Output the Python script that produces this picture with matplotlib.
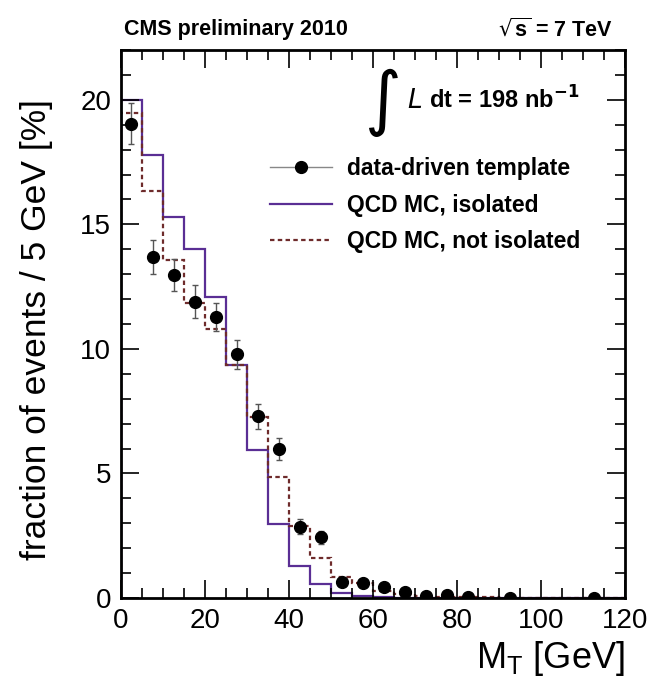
import matplotlib
matplotlib.use('Agg')

import numpy as np
import matplotlib.pyplot as plt
from matplotlib.lines import Line2D
from matplotlib.ticker import MultipleLocator

plt.rcParams['font.family'] = ['Liberation Sans', 'DejaVu Sans']

# Bin edges (5 GeV bins)
edges = np.arange(0, 125, 5)

# QCD MC, isolated
iso = [20.0, 17.8, 15.3, 14.0, 12.1, 9.34, 5.93, 2.97, 1.3, 0.56, 0.2, 0.08,
       0.03, 0.01, 0, 0, 0, 0, 0, 0, 0, 0, 0, 0]
# QCD MC, not isolated
noniso = [19.47, 16.35, 13.55, 11.84, 10.8, 9.34, 7.27, 4.86, 2.9, 1.59, 0.83, 0.61,
          0.3, 0.15, 0.08, 0.05, 0.03, 0.02, 0.01, 0, 0, 0, 0, 0]

# data-driven template
data_x = [2.5, 7.5, 12.5, 17.5, 22.5, 27.5, 32.5, 37.5, 42.5, 47.5,
          52.5, 57.5, 62.5, 67.5, 72.5, 77.5, 82.5, 92.5, 112.5]
data_y = [19.05, 13.7, 12.97, 11.9, 11.28, 9.78, 7.29, 5.98, 2.87, 2.43,
          0.65, 0.61, 0.45, 0.25, 0.08, 0.12, 0.02, 0.0, 0.0]
data_err = [0.83, 0.69, 0.65, 0.65, 0.55, 0.58, 0.5, 0.45, 0.3, 0.25,
            0.12, 0.1, 0.08, 0.06, 0.04, 0.04, 0.02, 0.02, 0.02]

purple = '#5a2e94'
brown = '#6e2b2b'

fig = plt.figure(figsize=(6.54, 6.76), dpi=100)
ax = fig.add_axes([0.185, 0.1154, 0.771, 0.8106])

ax.stairs(iso, edges, color=purple, linewidth=1.6, baseline=0)
ax.stairs(noniso, edges, color=brown, linewidth=1.6, linestyle=(0, (2, 1.5)), baseline=0)
ax.errorbar(data_x, data_y, yerr=data_err, fmt='o', color='black', markersize=8.5,
            ecolor='#555555', elinewidth=1.0, capsize=2.5, capthick=1.0, zorder=5)

ax.set_xlim(0, 120)
ax.set_ylim(0, 22)
ax.xaxis.set_major_locator(MultipleLocator(20))
ax.xaxis.set_minor_locator(MultipleLocator(5))
ax.yaxis.set_major_locator(MultipleLocator(5))
ax.yaxis.set_minor_locator(MultipleLocator(1))
ax.tick_params(which='both', direction='in', top=True, right=True, width=1.2)
ax.tick_params(which='major', length=13, labelsize=20, pad=7)
ax.tick_params(which='minor', length=7)
for s in ax.spines.values():
    s.set_linewidth(2)

ax.set_ylabel('fraction of events / 5 GeV [%]', fontsize=25.5)
ax.yaxis.set_label_coords(-0.135, 0.49)
ax.set_xlabel(r'M$_{\mathregular{T}}$ [GeV]', fontsize=26, ha='right')
ax.xaxis.set_label_coords(1.0, -0.074)

fig.text(0.19, 0.957, 'CMS preliminary 2010', fontsize=15.5, fontweight='bold', va='center')
fig.text(0.937, 0.957, r'$\sqrt{\mathregular{s}}$ = 7 TeV', fontsize=15.5, fontweight='bold',
         va='center', ha='right')

ax.text(0.55, 0.905, r'$\int$', transform=ax.transAxes, fontsize=36, va='center', ha='right')
ax.text(0.568, 0.907, r'$\mathit{L}$', transform=ax.transAxes, fontsize=19,
        family='Liberation Serif', va='center')
ax.text(0.61, 0.909, r'dt = 198 nb$^{\mathbf{-1}}$', transform=ax.transAxes, fontsize=17,
        fontweight='bold', va='center')

handles = [Line2D([], [], color='#888888', marker='o', markerfacecolor='black',
                  markeredgecolor='black', markersize=8.5, linewidth=1),
           Line2D([], [], color=purple, linewidth=1.6),
           Line2D([], [], color=brown, linewidth=1.6, linestyle=(0, (2, 1.5)))]
labels = ['data-driven template', 'QCD MC, isolated', 'QCD MC, not isolated']
leg = ax.legend(handles, labels, loc='center left', bbox_to_anchor=(0.296, 0.717),
                frameon=False, handlelength=2.7, handletextpad=0.65, labelspacing=0.6,
                borderpad=0, borderaxespad=0, prop={'size': 16.5, 'weight': 'bold'})

fig.savefig('out.png')
